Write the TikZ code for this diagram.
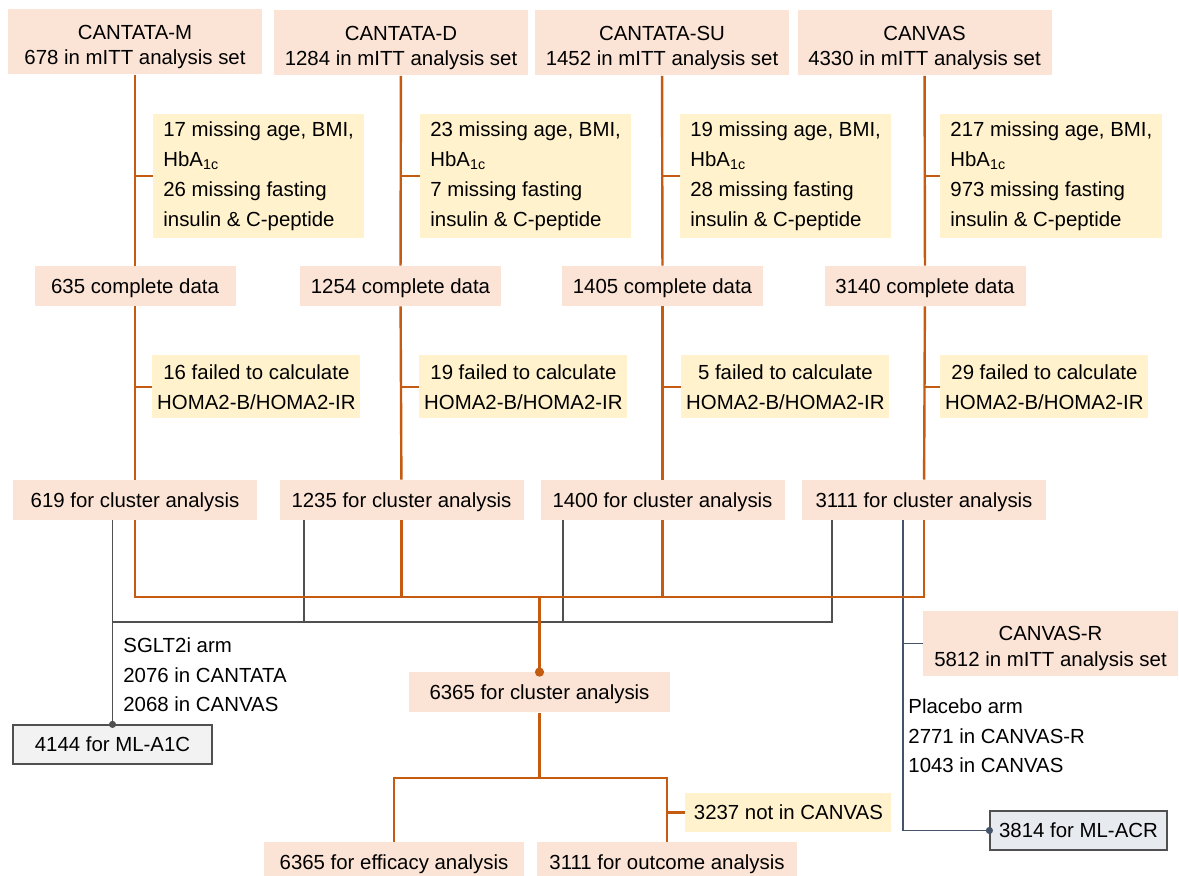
\documentclass[tikz,border=0pt]{standalone}
\usepackage{fontspec}
\setmainfont{Liberation Sans}
\usetikzlibrary{positioning,calc,arrows.meta}
\definecolor{flowpeach}{RGB}{251,228,214}
\definecolor{flowyellow}{RGB}{255,242,204}
\definecolor{floworange}{RGB}{197,90,17}
\definecolor{armgray}{RGB}{80,80,80}
\definecolor{armblue}{RGB}{68,84,106}
\definecolor{mlgray}{RGB}{242,242,242}
\definecolor{mlblue}{RGB}{231,234,239}

\begin{document}
\begin{tikzpicture}[
  x=0.5pt, y=-0.5pt,
  font=\fontsize{10.2}{15}\selectfont,
  every node/.style={inner sep=0pt},
  trial/.style={fill=flowpeach, minimum width=127pt, minimum height=32.5pt, text height=25pt, text depth=2.2pt, align=center, font=\fontsize{10.2}{12.7}\selectfont},
  stage/.style={fill=flowpeach, minimum height=20pt, text height=9.5pt, text depth=2.2pt, align=center},
  excl/.style={fill=flowyellow, anchor=west, align=left, inner xsep=5pt, minimum height=62pt},
  fail/.style={fill=flowyellow, anchor=west, align=center, minimum width=104pt, minimum height=31.5pt},
  mlbox/.style={draw=armgray, line width=0.6pt, minimum height=19.5pt, text height=9.5pt, text depth=2.2pt, align=center},
  note/.style={anchor=west, align=left, font=\fontsize{10.2}{14.7}\selectfont},
  flow/.style={draw=floworange, line width=1.2pt},
  armline/.style={draw=armgray, line width=0.9pt},
  pboline/.style={draw=armblue, line width=0.9pt},
  dot/.style={-{Circle[length=#1]}, shorten >=-0.5*#1},
]
\useasboundingbox (0,0) rectangle (1179,876);

% Trials
\node[trial] (tM)  at (135,42)   {CANTATA-M\\678 in mITT analysis set};
\node[trial] (tD)  at (401,43)   {CANTATA-D\\1284 in mITT analysis set};
\node[trial] (tSU) at (662,43)   {CANTATA-SU\\1452 in mITT analysis set};
\node[trial] (tCV) at (924.5,43) {CANVAS\\4330 in mITT analysis set};

% Missing data
\node[excl] (missM)  at (153,176) {17 missing age, BMI,\\HbA\textsubscript{1c}\\26 missing fasting\\insulin \& C-peptide};
\node[excl] (missD)  at (420,176) {23 missing age, BMI,\\HbA\textsubscript{1c}\\7 missing fasting\\insulin \& C-peptide};
\node[excl] (missSU) at (680,176) {19 missing age, BMI,\\HbA\textsubscript{1c}\\28 missing fasting\\insulin \& C-peptide};
\node[excl] (missCV) at (940,176) {217 missing age, BMI,\\HbA\textsubscript{1c}\\973 missing fasting\\insulin \& C-peptide};

% Complete data
\node[stage, minimum width=100.5pt] (okM)  at (135,286)   {635 complete data};
\node[stage, minimum width=100.5pt] (okD)  at (400.5,286) {1254 complete data};
\node[stage, minimum width=100.5pt] (okSU) at (662.5,286) {1405 complete data};
\node[stage, minimum width=100.5pt] (okCV) at (925,286)   {3140 complete data};

% HOMA2 failures
\node[fail] (failM)  at (152,387) {16 failed to calculate\\HOMA2-B/HOMA2-IR};
\node[fail] (failD)  at (419,387) {19 failed to calculate\\HOMA2-B/HOMA2-IR};
\node[fail] (failSU) at (681,387) {5 failed to calculate\\HOMA2-B/HOMA2-IR};
\node[fail] (failCV) at (940,387) {29 failed to calculate\\HOMA2-B/HOMA2-IR};

% Cluster analysis per trial
\node[stage, minimum width=122pt] (clM)  at (135,500)   {619 for cluster analysis};
\node[stage, minimum width=122pt] (clD)  at (401.5,500) {1235 for cluster analysis};
\node[stage, minimum width=122pt] (clSU) at (662.5,500) {1400 for cluster analysis};
\node[stage, minimum width=122pt] (clCV) at (924,500)   {3111 for cluster analysis};

% Pooled
\node[stage, minimum width=130.5pt] (all) at (539.5,692.5) {6365 for cluster analysis};
\node[stage, minimum width=130pt] (eff) at (394,862) {6365 for efficacy analysis};
\node[stage, minimum width=130pt] (out) at (667,862) {3111 for outcome analysis};
\node[fail, minimum width=103pt, minimum height=19.5pt, text height=9.5pt, text depth=2.2pt] (nic) at (685,812.5) {3237 not in CANVAS};

% ML cohorts
\node[trial, minimum width=127.5pt] (cr) at (1050.5,643.5) {CANVAS-R\\5812 in mITT analysis set};
\node[mlbox, fill=mlgray, minimum width=99.5pt] (a1c) at (112.5,744.5) {4144 for ML-A1C};
\node[mlbox, fill=mlblue, minimum width=88.5pt] (acr) at (1078.5,830.5) {3814 for ML-ACR};
\node[note] (sglt) at (123,675) {SGLT2i arm\\2076 in CANTATA\\2068 in CANVAS};
\node[note] (pbo) at (908,736) {Placebo arm\\2771 in CANVAS-R\\1043 in CANVAS};

% SGLT2i arm lines
\coordinate (bus) at (112.5,622);
\draw[armline, dot=3.5pt] (clM.south -| a1c.north) -- (a1c.north);
\draw[armline] ($(clD.south west)+(25,0)$) |- (bus);
\draw[armline] ($(clSU.south west)+(23,0)$) |- (bus);
\draw[armline] ($(clCV.south west)+(30,0)$) |- (bus);

% Placebo arm lines
\coordinate (pbotop) at ($(clCV.south west)+(101,0)$);
\draw[pboline, dot=3.5pt] (pbotop) |- (acr.west);
\draw[pboline] (pbotop) |- (cr.west);

% Trial flow
\draw[flow] (tM) -- (okM);
\draw[flow] (tD) -- (okD);
\draw[flow] (tSU) -- (okSU);
\draw[flow] (tCV) -- (okCV);
\draw[flow] (missM.west -| tM) -- (missM.west);
\draw[flow] (missD.west -| tD) -- (missD.west);
\draw[flow] (missSU.west -| tSU) -- (missSU.west);
\draw[flow] (missCV.west -| tCV) -- (missCV.west);
\draw[flow] (okM) -- (clM);
\draw[flow] (okD) -- (clD);
\draw[flow] (okSU) -- (clSU);
\draw[flow] (okCV) -- (clCV);
\draw[flow] (failM.west -| okM) -- (failM.west);
\draw[flow] (failD.west -| okD) -- (failD.west);
\draw[flow] (failSU.west -| okSU) -- (failSU.west);
\draw[flow] (failCV.west -| okCV) -- (failCV.west);

% Pooling
\coordinate (merge) at (539.5,597);
\draw[flow] (clM) |- (merge);
\draw[flow] (clD) |- (merge);
\draw[flow] (clSU) |- (merge);
\draw[flow] (clCV) |- (merge);
\draw[flow, dot=4.5pt] (merge) -- (all);

% Efficacy and outcome
\coordinate (split) at (539.5,778);
\draw[flow] (all) -- (split);
\draw[flow] (split) -| (eff);
\draw[flow] (split) -| (out);
\draw[flow] (nic.west -| out) -- (nic.west);

\end{tikzpicture}
\end{document}
